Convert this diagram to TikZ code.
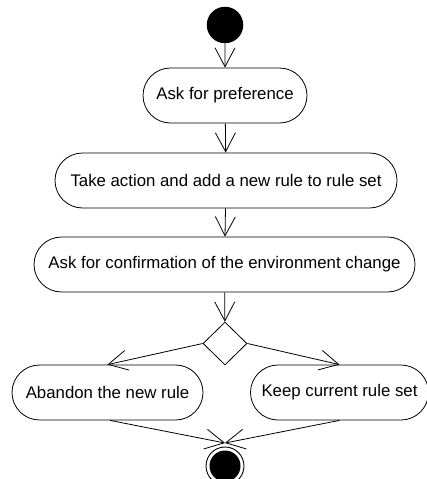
\documentclass[tikz,border=0pt]{standalone}
\usepackage{fontspec}
\setmainfont{Liberation Sans}
\usetikzlibrary{shapes.misc,shapes.geometric,arrows.meta}
\begin{document}
\begin{tikzpicture}[x=1pt,y=-1pt,
  flow/.style={draw, line width=0.8pt,
    -{Straight Barb[length=19pt,width=20pt,line width=0.8pt]}},
  link/.style={draw, line width=0.8pt},
  activity/.style={rounded rectangle, draw, line width=0.8pt, inner sep=0pt,
    minimum height=55pt, font=\fontsize{16.8}{20}\selectfont},
  decision/.style={diamond, draw, line width=0.8pt, inner sep=0pt,
    minimum width=44pt, minimum height=43pt},
  startnode/.style={circle, fill=black, inner sep=0pt, minimum size=36.5pt},
  endnode/.style={circle, draw, line width=0.9pt, inner sep=0pt, minimum size=38pt}
]
\useasboundingbox (0,0) rectangle (426,479);

% initial state
\node[startnode] (start) at (225,25) {};

% activities
\node[activity, minimum width=164pt] (pref) at (225,95.5) {Ask for preference};
\node[activity, minimum width=342pt] (act) at (226,180.5) {Take action and add a new rule to rule set};
\node[activity, minimum width=381pt] (confirm) at (224.5,264.5) {Ask for confirmation of the environment change};

% decision
\node[decision] (dec) at (225,343.5) {};

% branches
\node[activity, minimum width=191pt] (abandon) at (107.5,392.5) {Abandon the new rule};
\node[activity, minimum width=178pt] (keep) at (339.5,392.5) {Keep current rule set};

% final state
\node[endnode] (end) at (225,466) {};
\fill (end.center) circle (15.5);
\coordinate (join) at (225,443);

% control flow
\draw[flow] (start) -- (pref);
\draw[flow] (pref) -- (act);
\draw[flow] (act) -- (confirm);
\draw[flow] (confirm) -- (dec);
\draw[flow] (dec.west) -- (abandon.north);
\draw[flow] (dec.east) -- (keep.north);
\draw[flow] ([xshift=2.5pt]abandon.south) -- (join);
\draw[flow] (keep.south) -- (join);
\end{tikzpicture}
\end{document}
